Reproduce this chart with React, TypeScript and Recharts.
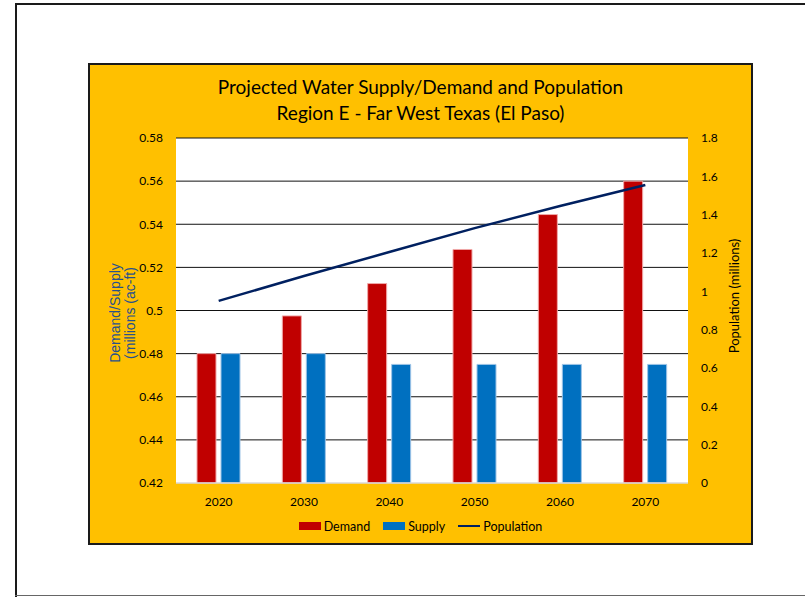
import {
  ComposedChart,
  Bar,
  Line,
  XAxis,
  YAxis,
  CartesianGrid,
  Legend,
  Label,
} from "recharts";

const years = ["2020", "2030", "2040", "2050", "2060", "2070"];
const demand = [0.48, 0.4975, 0.5125, 0.5283, 0.5445, 0.56];
const supply = [0.48, 0.48, 0.475, 0.475, 0.475, 0.475];
const population = [0.95, 1.08, 1.205, 1.33, 1.445, 1.555];

const leftTicks = [0.42, 0.44, 0.46, 0.48, 0.5, 0.52, 0.54, 0.56, 0.58];
const rightTicks = [0, 0.2, 0.4, 0.6, 0.8, 1, 1.2, 1.4, 1.6, 1.8];

const data = years.map((year, i) => ({
  year,
  Demand: demand[i],
  Supply: supply[i],
  Population: population[i],
}));

const FONT = "Lato, 'Open Sans', sans-serif";
const W = 805;
const H = 597;

const legendItems = [
  { name: "Demand", color: "#C00000", kind: "rect" },
  { name: "Supply", color: "#0070C0", kind: "rect" },
  { name: "Population", color: "#002060", kind: "line" },
];

function ChartLegend() {
  return (
    <div
      style={{
        display: "flex",
        justifyContent: "center",
        alignItems: "center",
        gap: 13,
        height: 20,
        fontFamily: FONT,
        fontSize: 12.5,
        color: "#000",
      }}
    >
      {legendItems.map((it) => (
        <div key={it.name} style={{ display: "flex", alignItems: "center" }}>
          <span
            style={{
              display: "inline-block",
              width: 22,
              height: it.kind === "rect" ? 8 : 2.5,
              background: it.color,
              marginRight: 3,
            }}
          />
          <span>{it.name}</span>
        </div>
      ))}
    </div>
  );
}

function LeftAxisLabel(props: any) {
  const vb = props.viewBox;
  const cx = vb.x + 4;
  const cy = 313;
  return (
    <text
      transform={`rotate(-90 ${cx} ${cy})`}
      x={cx}
      y={cy}
      textAnchor="middle"
      fill="#28508C"
      fontFamily="'Liberation Sans', Arial, sans-serif"
      fontSize={14}
    >
      <tspan x={cx} dy={0}>Demand/Supply</tspan>
      <tspan x={cx} dy={14.5}>(millions (ac-ft)</tspan>
    </text>
  );
}

function RightAxisLabel(props: any) {
  const vb = props.viewBox;
  const cx = vb.x + 51;
  const cy = 296;
  return (
    <text
      transform={`rotate(-90 ${cx} ${cy})`}
      x={cx}
      y={cy}
      textAnchor="middle"
      fill="#000"
      fontFamily={FONT}
      fontSize={13}
    >
      Population (millions)
    </text>
  );
}

export default function App() {
  return (
    <div style={{ position: "absolute", left: 0, top: 0, width: W, height: H, background: "#fff" }}>
      {/* page frame */}
      <div style={{ position: "absolute", left: 15, top: 3, width: W - 15, height: 2, background: "#1a1a1a" }} />
      <div style={{ position: "absolute", left: 15, top: 3, width: 2, height: H - 3, background: "#1a1a1a" }} />
      <div style={{ position: "absolute", left: 15, top: 595, width: W - 15, height: 1, background: "#666" }} />
      {/* orange chart box */}
      <div
        style={{
          position: "absolute",
          left: 88,
          top: 63,
          width: 665,
          height: 482,
          boxSizing: "border-box",
          border: "2px solid #1a1a1a",
          background: "#FFC000",
        }}
      />
      <div
        style={{
          position: "absolute",
          left: 88,
          top: 74,
          width: 665,
          textAlign: "center",
          fontFamily: FONT,
          fontSize: 19,
          lineHeight: "26px",
          color: "#000",
        }}
      >
        <div>Projected Water Supply/Demand and Population</div>
        <div>Region E - Far West Texas (El Paso)</div>
      </div>
      <div style={{ position: "absolute", left: 0, top: 0 }}>
        <ComposedChart
          width={W}
          height={H}
          data={data}
          margin={{ top: 138, right: 57, left: 116, bottom: 64 }}
          barGap={5}
        >
          <CartesianGrid
            yAxisId="left"
            vertical={false}
            horizontalValues={leftTicks.slice(1)}
            stroke="#111"
            strokeWidth={1}
            fill="#fff"
          />
          <XAxis
            dataKey="year"
            height={30}
            tickLine={false}
            axisLine={{ stroke: "#d9d9d9", strokeWidth: 1.5 }}
            tickSize={0}
            tickMargin={14}
            tick={{ fill: "#000", fontSize: 12, fontFamily: FONT }}
          />
          <YAxis
            yAxisId="left"
            orientation="left"
            width={60}
            domain={[0.42, 0.58]}
            ticks={leftTicks}
            interval={0}
            axisLine={false}
            tickLine={false}
            tickSize={0}
            tickMargin={13}
            tick={{ fill: "#000", fontSize: 12, fontFamily: FONT }}
          >
            <Label content={LeftAxisLabel} />
          </YAxis>
          <YAxis
            yAxisId="right"
            orientation="right"
            width={60}
            domain={[0, 1.8]}
            ticks={rightTicks}
            interval={0}
            axisLine={false}
            tickLine={false}
            tickSize={0}
            tickMargin={13}
            tick={{ fill: "#000", fontSize: 12, fontFamily: FONT }}
          >
            <Label content={RightAxisLabel} />
          </YAxis>
          <Bar
            yAxisId="left"
            dataKey="Demand"
            fill="#C00000"
            stroke="#F0A8A8"
            strokeWidth={1}
            barSize={19}
            isAnimationActive={false}
          />
          <Bar
            yAxisId="left"
            dataKey="Supply"
            fill="#0070C0"
            stroke="#9DC3E6"
            strokeWidth={1}
            barSize={19}
            isAnimationActive={false}
          />
          <Line
            yAxisId="right"
            dataKey="Population"
            type="linear"
            stroke="#002060"
            strokeWidth={2.5}
            dot={false}
            activeDot={false}
            isAnimationActive={false}
          />
          <Legend
            verticalAlign="bottom"
            content={ChartLegend}
            wrapperStyle={{ left: 88, width: 665, bottom: 61 }}
          />
        </ComposedChart>
      </div>
    </div>
  );
}
